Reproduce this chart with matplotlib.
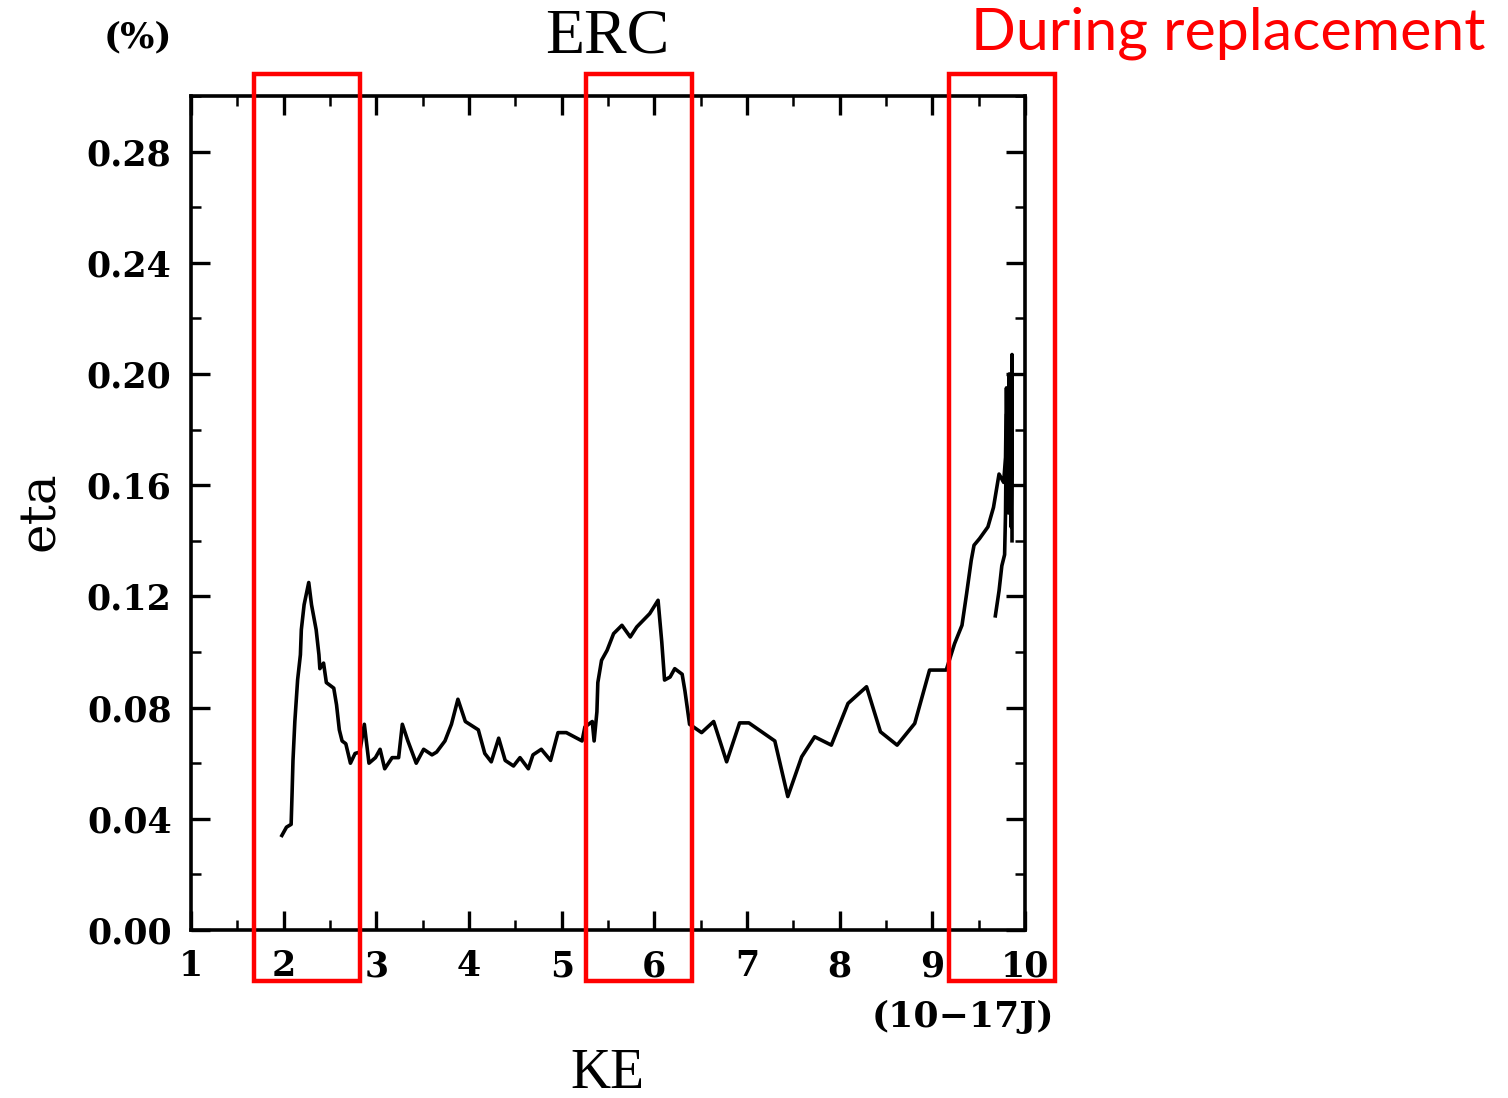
import matplotlib.pyplot as plt
from matplotlib.patches import Rectangle
from matplotlib.ticker import MultipleLocator, FormatStrFormatter

# main trace (KE in 1e-17 J, eta in %)
ke_main = [1.98, 2.03, 2.08, 2.09, 2.10, 2.12, 2.15, 2.18, 2.19, 2.22, 2.27, 2.30,
           2.35, 2.38, 2.39, 2.43, 2.46, 2.54, 2.57, 2.60, 2.63, 2.67, 2.72, 2.77,
           2.82, 2.87, 2.92, 2.99, 3.04, 3.09, 3.17, 3.24, 3.28, 3.34, 3.43, 3.51,
           3.60, 3.65, 3.74, 3.81, 3.88, 3.96, 4.10, 4.17, 4.24, 4.32, 4.39, 4.48,
           4.55, 4.64, 4.69, 4.78, 4.88, 4.96, 5.05, 5.22, 5.25, 5.33, 5.35, 5.38,
           5.39, 5.43, 5.49, 5.56, 5.65, 5.74, 5.81, 5.95, 6.04, 6.08, 6.11, 6.17,
           6.22, 6.30, 6.33, 6.38, 6.51, 6.64, 6.78, 6.92, 7.02, 7.30, 7.44, 7.59,
           7.73, 7.91, 8.09, 8.29, 8.44, 8.62, 8.81, 8.97, 9.15, 9.24, 9.32, 9.37,
           9.42, 9.45, 9.51, 9.60, 9.66, 9.72, 9.77, 9.79, 9.80, 9.82, 9.83, 9.85,
           9.86, 9.86]
eta_main = [0.034, 0.037, 0.038, 0.049, 0.061, 0.075, 0.090, 0.099, 0.108, 0.117, 0.125, 0.117,
            0.108, 0.099, 0.094, 0.096, 0.089, 0.087, 0.081, 0.072, 0.068, 0.067, 0.060, 0.0635,
            0.064, 0.074, 0.060, 0.062, 0.065, 0.058, 0.062, 0.062, 0.074, 0.068, 0.060, 0.065,
            0.063, 0.064, 0.068, 0.074, 0.083, 0.075, 0.072, 0.0635, 0.0605, 0.069, 0.061, 0.059,
            0.062, 0.058, 0.063, 0.065, 0.061, 0.071, 0.071, 0.068, 0.073, 0.075, 0.068, 0.0785,
            0.089, 0.097, 0.1006, 0.1066, 0.1096, 0.1054, 0.109, 0.1138, 0.1186, 0.1036, 0.0899, 0.091,
            0.094, 0.092, 0.086, 0.074, 0.071, 0.075, 0.0605, 0.0745, 0.0745, 0.068, 0.048, 0.0623,
            0.0695, 0.0665, 0.0815, 0.0875, 0.0713, 0.0665, 0.0743, 0.0935, 0.0935, 0.103, 0.1096, 0.121,
            0.133, 0.1384, 0.1408, 0.145, 0.152, 0.164, 0.161, 0.170, 0.195, 0.150, 0.200, 0.145,
            0.207, 0.140]

# short second branch near the end of the run
ke_tail = [9.68, 9.72, 9.75, 9.78, 9.79, 9.80]
eta_tail = [0.113, 0.122, 0.131, 0.135, 0.150, 0.185]

# highlighted KE windows (start, end)
spans = [(1.68, 2.82), (5.26, 6.41), (9.18, 10.32)]

xticks = list(range(1, 11))
yticks = [0.00, 0.04, 0.08, 0.12, 0.16, 0.20, 0.24, 0.28]

fig = plt.figure(figsize=(15.08, 10.98), dpi=100)
ax = fig.add_axes([0.1267, 0.1530, 0.5530, 0.7596])

ax.plot(ke_main, eta_main, color="black", lw=2.6)
ax.plot(ke_tail, eta_tail, color="black", lw=2.6)

ax.set_xlim(1, 10)
ax.set_ylim(0, 0.30)
ax.set_xticks(xticks)
ax.set_yticks(yticks)
ax.xaxis.set_minor_locator(MultipleLocator(0.5))
ax.yaxis.set_minor_locator(MultipleLocator(0.02))
ax.yaxis.set_major_formatter(FormatStrFormatter("%.2f"))

tick_font = {"family": "DejaVu Serif", "weight": "bold", "size": 25}
ax.tick_params(which="major", direction="in", length=14, width=2.4,
               top=True, right=True, pad=14)
ax.tick_params(which="minor", direction="in", length=7, width=1.8,
               top=True, right=True)
for lab in ax.get_xticklabels() + ax.get_yticklabels():
    lab.set_fontproperties(tick_font)
for s in ax.spines.values():
    s.set_linewidth(2.6)

serif = "Liberation Serif"
fig.text(0.4025, 0.966, "ERC", ha="center", va="center", family=serif, fontsize=46)
fig.text(0.4025, 0.022, "KE", ha="center", va="center", family=serif, fontsize=40)
fig.text(0.027, 0.534, "eta", ha="center", va="center", rotation=90,
         family="DejaVu Serif", fontsize=36)
fig.text(0.0915, 0.966, "(%)", ha="center", va="center",
         family="DejaVu Serif", weight="bold", fontsize=26)
fig.text(0.699, 0.074, "(10\u221217J)", ha="right", va="center",
         family="DejaVu Serif", weight="bold", fontsize=26)
fig.text(0.985, 0.970, "During replacement", ha="right", va="center",
         family="Lato", color="red", fontsize=42.5)

for x0, x1 in spans:
    ax.add_patch(Rectangle((x0, -0.0183), x1 - x0, 0.3263, fill=False,
                           edgecolor="red", lw=3.2, clip_on=False, zorder=5))

fig.savefig("out.png", dpi=100)
